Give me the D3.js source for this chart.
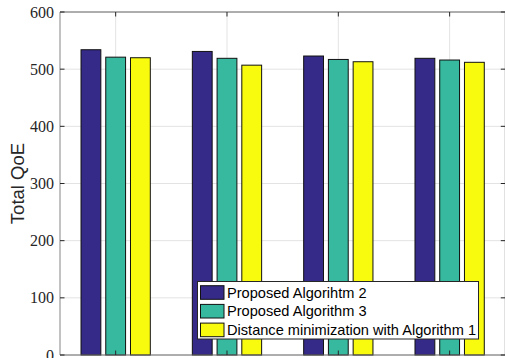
<!DOCTYPE html>
<html><head><meta charset="utf-8">
<script src="https://cdn.jsdelivr.net/npm/d3@7"></script>
<style>body{margin:0;background:#fff}svg{display:block}</style>
</head><body>
<svg id="c" width="505" height="358"></svg>
<script>
const groups = [1, 2, 3, 4];
const seriesNames = ["Proposed Algorihtm 2", "Proposed Algorithm 3", "Distance minimization with Algorithm 1"];
const algo2 = [534, 531, 523, 519];
const algo3 = [521, 519, 517, 516];
const distMin = [520, 507, 513, 512];
const yTicks = [0, 100, 200, 300, 400, 500, 600];
const colors = ["#352a87", "#36b99f", "#f9fb0e"];

const svg = d3.select("#c");
const L = 60, R = 505.3, T = 12, B = 355;
const x = d3.scaleLinear().domain([0.5, 4.5]).range([L, R]);
const y = d3.scaleLinear().domain([0, 600]).range([B, T]);
const series = [algo2, algo3, distMin];
const offsets = [-0.2222, 0, 0.2222];
const bw = 0.178;
const tickLen = 4.5;

// grid
const g = svg.append("g");
g.selectAll(".hg").data(yTicks).join("line")
  .attr("x1", L).attr("x2", R).attr("y1", d => y(d)).attr("y2", d => y(d))
  .attr("stroke", "#e3e3e3").attr("stroke-width", 1);
g.selectAll(".vg").data(groups).join("line")
  .attr("x1", d => x(d)).attr("x2", d => x(d)).attr("y1", T).attr("y2", B)
  .attr("stroke", "#e3e3e3").attr("stroke-width", 1);

// bars
series.forEach((s, i) => {
  svg.append("g").selectAll("rect").data(s).join("rect")
    .attr("x", (d, j) => x(groups[j] + offsets[i] - bw / 2))
    .attr("width", x(bw) - x(0))
    .attr("y", d => y(d))
    .attr("height", d => y(0) - y(d))
    .attr("fill", colors[i])
    .attr("stroke", "#111").attr("stroke-width", 1);
});

// axes box
const ax = svg.append("g").attr("stroke", "#262626").attr("stroke-width", 1);
ax.append("line").attr("x1", L).attr("x2", L).attr("y1", T).attr("y2", B).attr("stroke", "#858585");
ax.append("line").attr("x1", L).attr("x2", R).attr("y1", T).attr("y2", T).attr("stroke", "#6a6a6a");
ax.append("line").attr("x1", L).attr("x2", R).attr("y1", B).attr("y2", B).attr("stroke", "#6a6a6a");
ax.append("line").attr("x1", R).attr("x2", R).attr("y1", T).attr("y2", B).attr("stroke", "#6a6a6a");
ax.selectAll(".yt").data(yTicks).join("line")
  .attr("x1", L).attr("x2", L + tickLen).attr("y1", d => y(d)).attr("y2", d => y(d));
ax.selectAll(".yt2").data(yTicks).join("line")
  .attr("x1", R - tickLen).attr("x2", R).attr("y1", d => y(d)).attr("y2", d => y(d));
ax.selectAll(".xt").data(groups).join("line")
  .attr("x1", d => x(d)).attr("x2", d => x(d)).attr("y1", B).attr("y2", B - tickLen);
ax.selectAll(".xt2").data(groups).join("line")
  .attr("x1", d => x(d)).attr("x2", d => x(d)).attr("y1", T).attr("y2", T + tickLen);

// y tick labels
svg.append("g").selectAll("text").data(yTicks).join("text")
  .attr("x", L - 6).attr("y", d => y(d)).attr("dy", "0.35em")
  .attr("text-anchor", "end")
  .style("font-family", "'Liberation Serif', 'DejaVu Serif', serif").attr("font-size", 16)
  .attr("fill", "#262626").text(d => d);

// y label
svg.append("text")
  .attr("transform", `translate(23.5,${(T + B) / 2}) rotate(-90)`)
  .attr("text-anchor", "middle")
  .style("font-family", "'Liberation Sans', Arial, sans-serif").attr("font-size", 18.5)
  .attr("fill", "#262626").text("Total QoE");

// legend
const lg = svg.append("g");
lg.append("rect").attr("x", 197.5).attr("y", 281.5).attr("width", 281).attr("height", 57.5)
  .attr("fill", "#fff").attr("stroke", "#262626").attr("stroke-width", 1);
seriesNames.forEach((n, i) => {
  const cy = 292.5 + i * 18.7;
  lg.append("rect").attr("x", 200.5).attr("y", cy - 6.8).attr("width", 23.5).attr("height", 13.6)
    .attr("fill", colors[i]).attr("stroke", "#111").attr("stroke-width", 1);
  lg.append("text").attr("x", 227).attr("y", cy).attr("dy", "0.36em")
    .style("font-family", "'Liberation Sans', Arial, sans-serif").attr("font-size", 14.6)
    .attr("fill", "#000").text(n);
});
</script>
</body></html>
